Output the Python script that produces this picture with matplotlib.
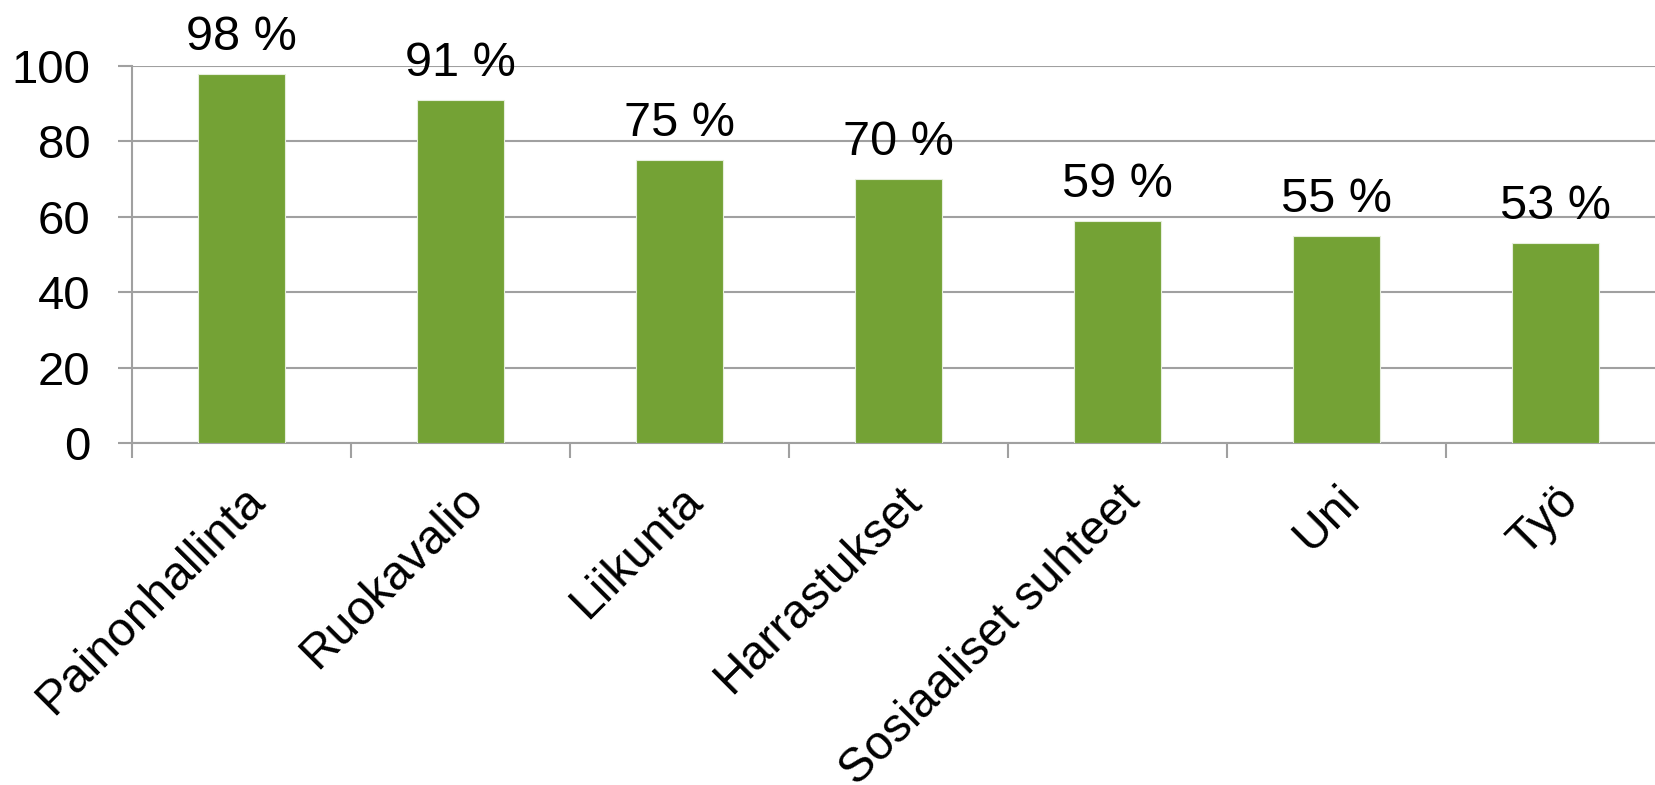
import matplotlib.pyplot as plt
import numpy as np

categories = ["Painonhallinta", "Ruokavalio", "Liikunta", "Harrastukset",
              "Sosiaaliset suhteet", "Uni", "Työ"]
values = [98, 91, 75, 70, 59, 55, 53]
value_labels = ["98 %", "91 %", "75 %", "70 %", "59 %", "55 %", "53 %"]
yticks = [0, 20, 40, 60, 80, 100]

plt.rcParams["font.family"] = ["Liberation Sans", "DejaVu Sans"]

W, H = 1655, 785
fig = plt.figure(figsize=(W / 100, H / 100), dpi=100)
ax = fig.add_axes([132 / W, (H - 443) / H, 7 * 219 / W, 377 / H])

grid_col = "#a0a0a0"
x = np.arange(len(categories))
ax.bar(x, values, width=0.4, color="#74a235", edgecolor="#e6eedc",
       linewidth=0.8, zorder=3)

# value labels above the bars
for xi, v, lab in zip(x, values, value_labels):
    ax.annotate(lab, (xi, v), xytext=(0, 10), textcoords="offset points",
                ha="center", va="bottom", fontsize=35, color="black")

ax.set_xlim(-0.5, len(categories) - 0.5)
ax.set_ylim(0, 100)
ax.set_yticks(yticks)
ax.set_yticklabels([str(t) for t in yticks], fontsize=34)
ax.yaxis.grid(True, color=grid_col, linewidth=1.5, zorder=0)

# ticks between categories, labels at the centres
ax.set_xticks(np.arange(len(categories) + 1) - 0.5, minor=True)
ax.set_xticks(x)
ax.set_xticklabels(categories, fontsize=34.5, rotation=45, ha="right",
                   va="top", rotation_mode="anchor")
ax.tick_params(axis="x", which="major", length=0, pad=25)
ax.tick_params(axis="x", which="minor", length=11, width=1.5, color=grid_col)
ax.tick_params(axis="y", length=10, width=1.5, color=grid_col, pad=20)

for side in ["top", "right"]:
    ax.spines[side].set_visible(False)
for side in ["left", "bottom"]:
    ax.spines[side].set_color(grid_col)
    ax.spines[side].set_linewidth(1.5)
ax.set_axisbelow(True)

fig.savefig("out.png", dpi=100)
